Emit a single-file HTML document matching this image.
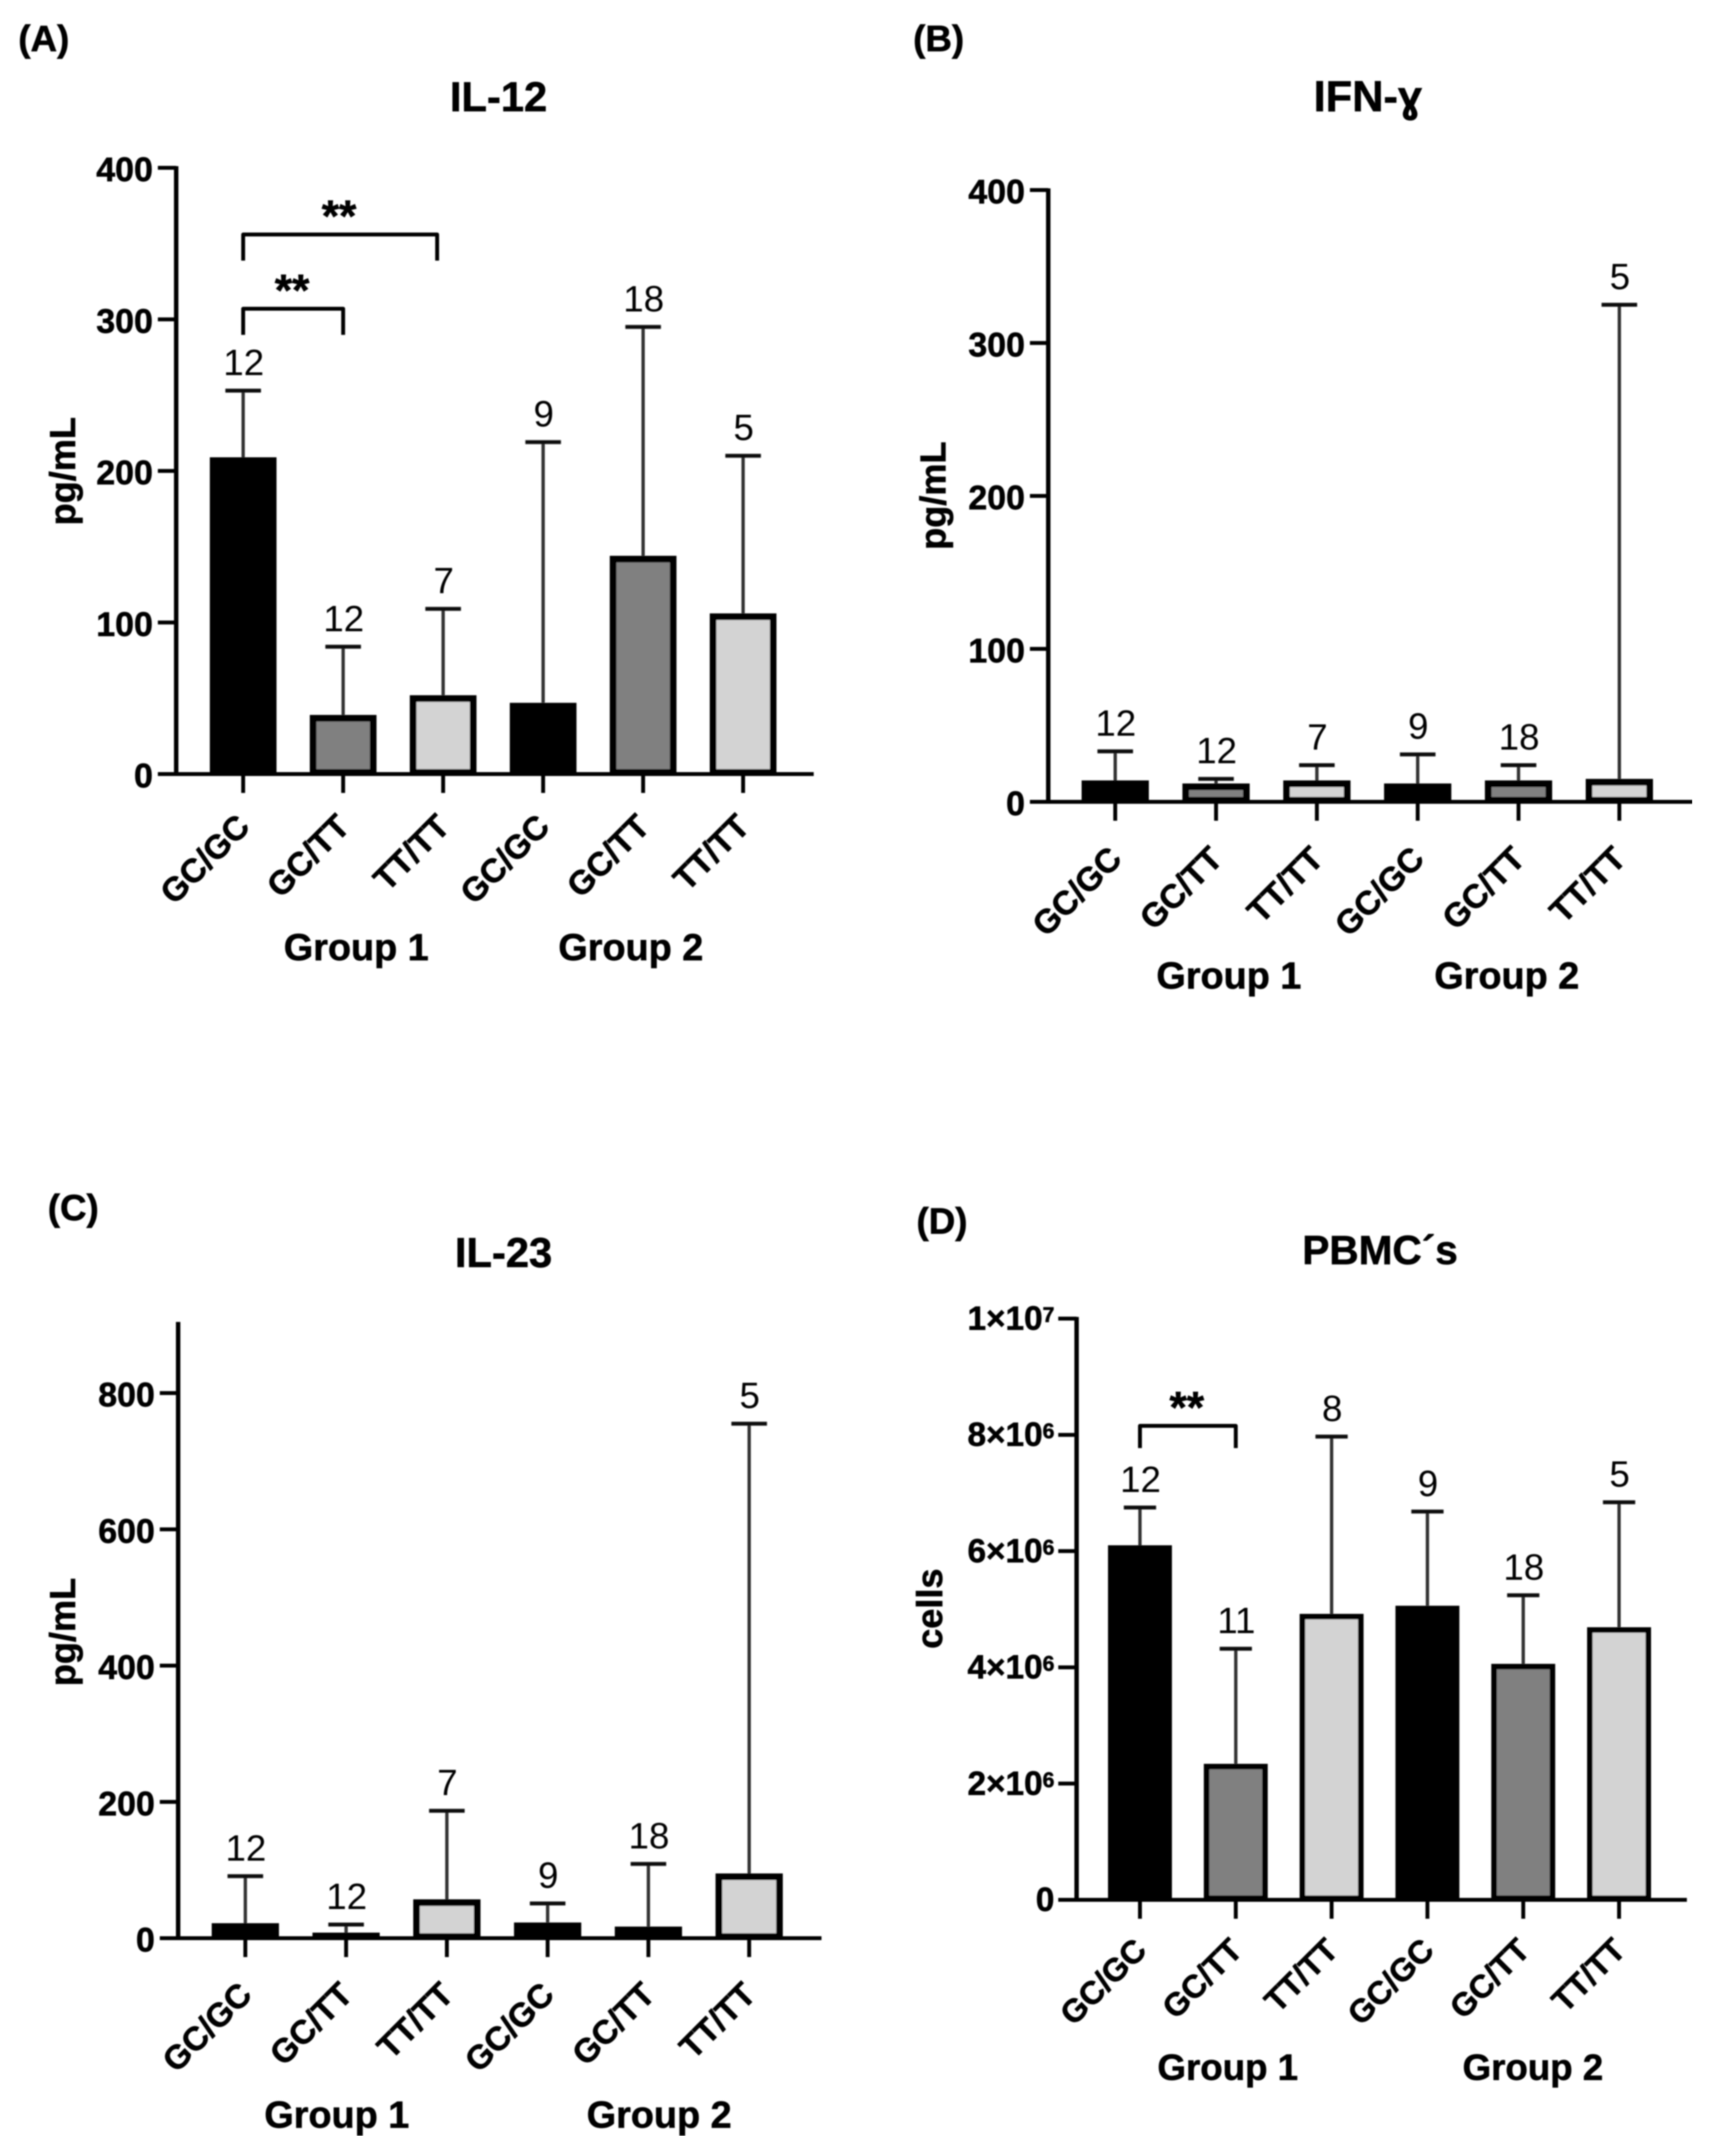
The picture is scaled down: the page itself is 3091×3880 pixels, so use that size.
<!DOCTYPE html>
<html lang="en">
<head>
<meta charset="utf-8">
<title>Cytokine bar charts</title>
<style>
html,body{margin:0;padding:0;background:#fff;}
svg{display:block;}
text{font-family:"Liberation Sans",sans-serif;fill:#000;}
.b{font-weight:bold;stroke:#000;stroke-width:1;}
</style>
</head>
<body>
<svg id="figure" xmlns="http://www.w3.org/2000/svg" width="3091" height="3880" viewBox="0 0 3091 3880">
<defs><filter id="soft" x="0" y="0" width="100%" height="100%"><feGaussianBlur stdDeviation="1.4"/></filter></defs>
<rect width="3091" height="3880" fill="#fff"/>
<g id="root" filter="url(#soft)">
  <g id="panel-a">
    <text class="b" x="33" y="92" font-size="66">(A)</text>
    <text class="b" x="897" y="200" font-size="75" text-anchor="middle">IL-12</text>
    <text class="b" font-size="65" text-anchor="middle" transform="translate(135,848) rotate(-90)">pg/mL</text>
    <text class="b" x="641" y="1728" font-size="68" text-anchor="middle">Group 1</text>
    <text class="b" x="1135" y="1728" font-size="68" text-anchor="middle">Group 2</text>
  </g>
  <g id="panel-b">
    <text class="b" x="1643" y="92" font-size="66">(B)</text>
    <text class="b" x="2461" y="200" font-size="78" text-anchor="middle">IFN-ɣ</text>
    <text class="b" font-size="65" text-anchor="middle" transform="translate(1701,892) rotate(-90)">pg/mL</text>
    <text class="b" x="2211" y="1779" font-size="68" text-anchor="middle">Group 1</text>
    <text class="b" x="2711" y="1779" font-size="68" text-anchor="middle">Group 2</text>
  </g>
  <g id="panel-c">
    <text class="b" x="86" y="2196" font-size="66">(C)</text>
    <text class="b" x="906" y="2280" font-size="75" text-anchor="middle">IL-23</text>
    <text class="b" font-size="65" text-anchor="middle" transform="translate(135,2937) rotate(-90)">pg/mL</text>
    <text class="b" x="606" y="3829" font-size="68" text-anchor="middle">Group 1</text>
    <text class="b" x="1186" y="3829" font-size="68" text-anchor="middle">Group 2</text>
  </g>
  <g id="panel-d">
    <text class="b" x="1649" y="2220" font-size="66">(D)</text>
    <text class="b" x="2483" y="2275" font-size="73" text-anchor="middle">PBMC´s</text>
    <text class="b" font-size="65" text-anchor="middle" transform="translate(1695,2895) rotate(-90)">cells</text>
    <text class="b" x="2209" y="3743" font-size="66" text-anchor="middle">Group 1</text>
    <text class="b" x="2758" y="3743" font-size="66" text-anchor="middle">Group 2</text>
  </g>
</g>
</svg>
<script>
const categories = ['GC/GC', 'GC/TT', 'TT/TT', 'GC/GC', 'GC/TT', 'TT/TT'];
const barFills = ['#000000', '#808080', '#d3d3d3', '#000000', '#808080', '#d3d3d3'];

const il12Means = [209, 39, 52, 47, 144, 106];
const il12Errors = [253, 84, 109, 219, 295, 210];
const il12Counts = ['12', '12', '7', '9', '18', '5'];
const il12Ticks = [0, 100, 200, 300, 400];
const il12TickLabels = ['0', '100', '200', '300', '400'];

const ifngMeans = [14, 12, 14, 12, 14, 15];
const ifngErrors = [33, 15, 24, 31, 24, 325];
const ifngCounts = ['12', '12', '7', '9', '18', '5'];
const ifngTicks = [0, 100, 200, 300, 400];
const ifngTickLabels = ['0', '100', '200', '300', '400'];

const il23Means = [22, 6, 57, 23, 17, 95];
const il23Errors = [91, 20, 187, 51, 109, 755];
const il23Counts = ['12', '12', '7', '9', '18', '5'];
const il23Ticks = [0, 200, 400, 600, 800];
const il23TickLabels = ['0', '200', '400', '600', '800'];

const pbmcMeans = [6100000, 2340000, 4920000, 5060000, 4060000, 4690000];
const pbmcErrors = [6750000, 4320000, 7970000, 6680000, 5240000, 6840000];
const pbmcCounts = ['12', '11', '8', '9', '18', '5'];
const pbmcTicks = [0, 2000000, 4000000, 6000000, 8000000, 10000000];
const pbmcTickLabels = ['0', '2×10', '4×10', '6×10', '8×10', '1×10'];
const pbmcTickExponents = ['', '6', '6', '6', '6', '7'];

const il12BracketLevels = [307, 356];
const il12BracketEnds = [1, 1.94];
const pbmcBracketLevels = [8155000];
const pbmcBracketEnds = [1];

const SVG_NS = 'http://www.w3.org/2000/svg';

function make(parent, tag, attrs, content) {
  const node = document.createElementNS(SVG_NS, tag);
  for (const key in attrs) node.setAttribute(key, attrs[key]);
  if (content !== undefined) node.textContent = content;
  parent.appendChild(node);
  return node;
}

function drawPanel(cfg) {
  const group = document.getElementById(cfg.id);
  const yScale = function (v) { return cfg.y0 - (v / cfg.refValue) * (cfg.y0 - cfg.refY); };
  const xScale = function (i) { return cfg.firstX + i * cfg.step; };

  cfg.ticks.forEach(function (tick, i) {
    const line = make(group, 'line', { x1: cfg.axisX - 33, x2: cfg.axisX, y1: yScale(tick), y2: yScale(tick), stroke: '#000', 'stroke-width': 7 });
    
    
    const label = make(group, 'text', { x: cfg.axisX - cfg.tickGap, y: yScale(tick) + cfg.tickDy, 'font-size': cfg.tickFont, 'text-anchor': 'end', class: 'b' }, cfg.tickLabels[i]);
    
    
    if (cfg.tickExponents && cfg.tickExponents[i]) {
      const sup = make(label, 'tspan', { dy: -14, 'font-size': 38 }, cfg.tickExponents[i]);
      
      
    }
  });

  categories.forEach(function (name, i) {
    const cx = xScale(i);
    const sw = cfg.barStroke;
    const base = cfg.y0 - 3;

    const stem = make(group, 'line', { x1: cx, x2: cx, y1: yScale(cfg.errors[i]), y2: yScale(cfg.means[i]), stroke: '#333', 'stroke-width': 6 });
    
    

    const cap = make(group, 'line', { x1: cx - cfg.capHalf, x2: cx + cfg.capHalf, y1: yScale(cfg.errors[i]), y2: yScale(cfg.errors[i]), stroke: '#111', 'stroke-width': 7 });
    
    

    const barTop = Math.min(yScale(cfg.means[i]) + sw / 2, base - 1);
    const bar = make(group, 'rect', {
      x: cx - cfg.barWidth / 2 + sw / 2,
      y: barTop,
      width: cfg.barWidth - sw,
      height: base - barTop,
      fill: barFills[i],
      stroke: '#000',
      'stroke-width': sw
    });
    
    

    const count = make(group, 'text', { x: cx + 1, y: yScale(cfg.errors[i]) - 28, 'font-size': 66, 'text-anchor': 'middle' }, cfg.counts[i]);
    
    

    const tick = make(group, 'line', { x1: cx, x2: cx, y1: cfg.y0, y2: cfg.y0 + 34, stroke: '#000', 'stroke-width': 7 });
    
    

    const ax = cx + 15;
    const ay = cfg.y0 + cfg.catDy;
    const catLabel = make(group, 'text', { x: ax, y: ay, 'font-size': cfg.catFont, 'text-anchor': 'end', class: 'b', transform: 'rotate(-45 ' + ax + ' ' + ay + ')' }, name);
    
    
  });

  const yAxis = make(group, 'line', { x1: cfg.axisX, x2: cfg.axisX, y1: cfg.axisTopY - 3, y2: cfg.y0 + 3, stroke: '#000', 'stroke-width': 8 });
  
  

  const xAxis = make(group, 'line', { x1: cfg.axisX - 33, x2: cfg.xEnd, y1: cfg.y0, y2: cfg.y0, stroke: '#000', 'stroke-width': 7 });
  
  

  (cfg.bracketLevels || []).forEach(function (level, i) {
    const y = yScale(level);
    const xa = xScale(0);
    const xb = xScale(cfg.bracketEnds[i]);
    const path = make(group, 'path', {
      d: 'M' + xa + ' ' + (y + cfg.bracketDrop) + 'V' + y + 'H' + xb + 'V' + (y + cfg.bracketDrop),
      fill: 'none', stroke: '#000', 'stroke-width': 7, 'stroke-linejoin': 'round'
    });
    
    
    const stars = make(group, 'text', { x: (xa + xb) / 2 - 2, y: y - 6, 'font-size': 80, 'text-anchor': 'middle', class: 'b' }, '**');
    
    
  });
}

drawPanel({
  id: 'panel-a', means: il12Means, errors: il12Errors, counts: il12Counts,
  ticks: il12Ticks, tickLabels: il12TickLabels, tickFont: 61, tickGap: 42, tickDy: 24,
  bracketLevels: il12BracketLevels, bracketEnds: il12BracketEnds, bracketDrop: 47,
  axisX: 317, y0: 1393, refY: 302, refValue: 400, axisTopY: 302, xEnd: 1464,
  firstX: 437.5, step: 179.9, barWidth: 120, barStroke: 12, capHalf: 32, catDy: 98, catFont: 60
});
drawPanel({
  id: 'panel-b', means: ifngMeans, errors: ifngErrors, counts: ifngCounts,
  ticks: ifngTicks, tickLabels: ifngTickLabels, tickFont: 61, tickGap: 42, tickDy: 24,
  axisX: 1886, y0: 1443, refY: 342, refValue: 400, axisTopY: 342, xEnd: 3045,
  firstX: 2006.5, step: 181.4, barWidth: 121, barStroke: 12, capHalf: 32, catDy: 106, catFont: 60
});
drawPanel({
  id: 'panel-c', means: il23Means, errors: il23Errors, counts: il23Counts,
  ticks: il23Ticks, tickLabels: il23TickLabels, tickFont: 61, tickGap: 42, tickDy: 24,
  axisX: 320.5, y0: 3488, refY: 2507, refValue: 800, axisTopY: 2382, xEnd: 1478,
  firstX: 441.4, step: 181.3, barWidth: 121, barStroke: 12, capHalf: 32, catDy: 105, catFont: 60
});
drawPanel({
  id: 'panel-d', means: pbmcMeans, errors: pbmcErrors, counts: pbmcCounts,
  ticks: pbmcTicks, tickLabels: pbmcTickLabels, tickExponents: pbmcTickExponents, tickFont: 60, tickGap: 40, tickDy: 20,
  bracketLevels: pbmcBracketLevels, bracketEnds: pbmcBracketEnds, bracketDrop: 40,
  axisX: 1937, y0: 3419, refY: 2373, refValue: 10000000, axisTopY: 2373, xEnd: 3035,
  firstX: 2051, step: 172.4, barWidth: 115, barStroke: 10, capHalf: 29, catDy: 94, catFont: 58
});
</script>
</body>
</html>
